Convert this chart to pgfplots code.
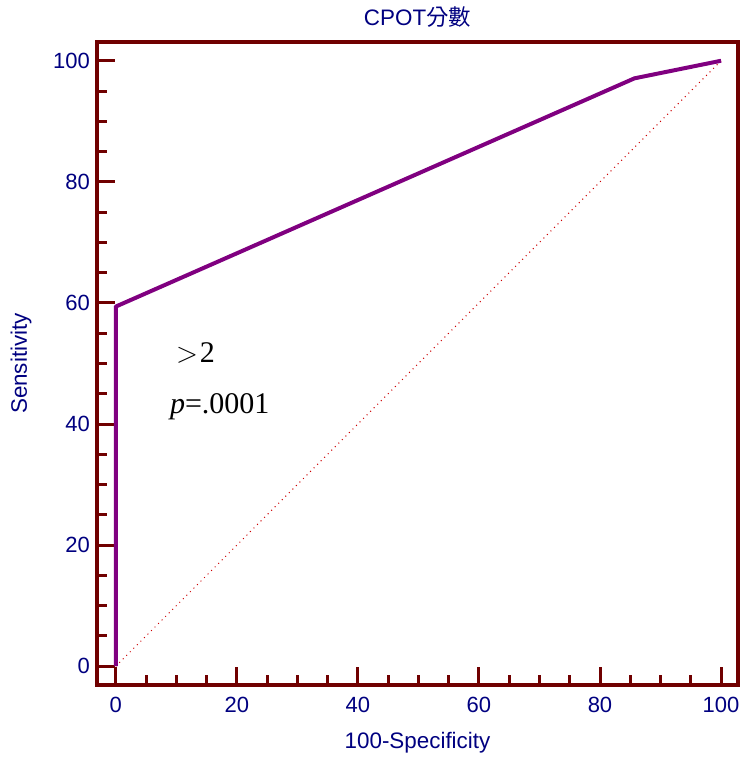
\documentclass[border=0pt]{standalone}
\usepackage{fontspec}
\setmainfont{Liberation Sans}
\newfontfamily\cjk{Noto Sans CJK TC}
\newfontfamily\tnr{Liberation Serif}
\usepackage{pgfplots}
\pgfplotsset{compat=1.18}
\definecolor{frame}{RGB}{112,0,0}
\definecolor{lbl}{RGB}{0,0,128}
\definecolor{roc}{RGB}{128,0,128}
\begin{document}
\begin{tikzpicture}
\begin{axis}[
  scale only axis, width=320.5pt, height=321.5pt,
  xmin=-3.1, xmax=102.8, ymin=-3.1, ymax=103.1,
  xtick={0,20,40,60,80,100}, ytick={0,20,40,60,80,100},
  minor tick num=3,
  tick align=inside, tick pos=left,
  major tick length=9pt, minor tick length=5pt,
  every tick/.style={frame, line width=1.5pt},
  axis line style={frame, line width=2pt},
  /pgf/number format/assume math mode=true,
  tick label style={font=\fontsize{11}{13}\selectfont, text=lbl},
  xticklabel style={yshift=-2.5pt},
  label style={font=\fontsize{11.2}{13}\selectfont, text=lbl},
  xlabel style={yshift=-3pt},
  ylabel style={yshift=4pt},
  title style={font=\fontsize{11.2}{13}\selectfont, text=lbl, yshift=-2pt},
  title={CPOT{\cjk 分數}},
  xlabel={100-Specificity}, ylabel={Sensitivity},
  clip=false,
]
\addplot[red!80!black, dotted, line width=0.5pt] coordinates {(0,0) (100,100)};
\addplot[roc, line width=2pt, line join=round] coordinates {(0,0) (0,59.4) (85.7,97.1) (100,100)};
\node[anchor=west, font=\tnr\fontsize{15}{18}\selectfont] at (axis cs:7.8,51.7) {\hspace{3pt}$>$\kern1pt2};
\node[anchor=west, font=\tnr\fontsize{15}{18}\selectfont] at (axis cs:7.8,42.9) {\textit{p}=.0001};
\coordinate (bl) at (rel axis cs:0,0);
\coordinate (tr) at (rel axis cs:1,1);
\end{axis}
\pgfresetboundingbox
\path ([shift={(-48.5pt,-37.5pt)}]bl) rectangle ([shift={(3.5pt,21pt)}]tr);
\end{tikzpicture}
\end{document}
